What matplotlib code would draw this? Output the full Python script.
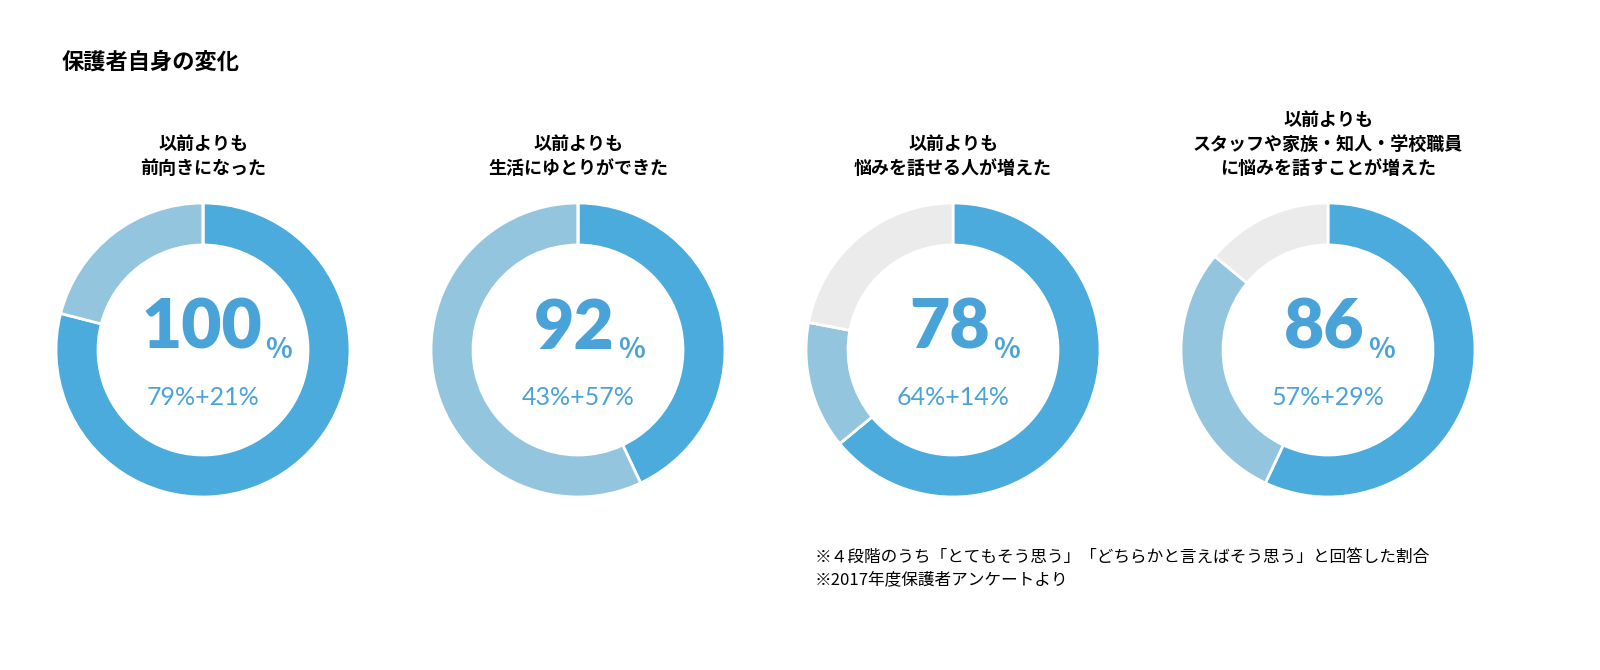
import matplotlib.pyplot as plt
import matplotlib
matplotlib.rcParams['font.family'] = 'Noto Sans CJK JP'

titles = ["以前よりも\n前向きになった",
          "以前よりも\n生活にゆとりができた",
          "以前よりも\n悩みを話せる人が増えた",
          "以前よりも\nスタッフや家族・知人・学校職員\nに悩みを話すことが増えた"]
totals = [100, 92, 78, 86]
strong = [79, 43, 64, 57]
weak = [21, 57, 14, 29]
colors = ['#4aabdc', '#94c5df', '#ebebeb']
blue = '#4aa3d8'

W, H = 1600, 670
fig = plt.figure(figsize=(16, 6.7), dpi=100)
fig.text(62 / W, 1 - 62 / H, "保護者自身の変化", fontsize=16, fontweight='bold', va='center')

centers = [203, 578, 953, 1328]
cy = 350
R = 147
for i, cx in enumerate(centers):
    ax = fig.add_axes([(cx - R) / W, (H - cy - R) / H, 2 * R / W, 2 * R / H])
    rest = 100 - strong[i] - weak[i]
    ax.pie([strong[i], weak[i], rest], colors=colors, startangle=90, counterclock=False,
           wedgeprops=dict(width=42 / R, edgecolor='white', linewidth=2))
    ax.set_xlim(-1, 1)
    ax.set_ylim(-1, 1)
    ax.set_aspect('auto')
    fig.text(cx / W, 1 - 178 / H, titles[i], ha='center', va='bottom', fontsize=13,
             fontweight='bold', linespacing=1.35)
    right = 0.40 - 0.15 * (3 - len(str(totals[i])))
    ax.text(right, 0.14, str(totals[i]), ha='right', va='center', fontsize=50,
            fontweight='heavy', color=blue, family='Lato')
    ax.text(right + 0.02, 0.0, "%", ha='left', va='center', fontsize=20, fontweight='bold', color=blue)
    ax.text(0, -0.32, f"{strong[i]}%+{weak[i]}%", ha='center', va='center', fontsize=18,
            color=blue, family='Lato')

fig.text(815 / W, 1 - 557 / H, "※４段階のうち「とてもそう思う」「どちらかと言えばそう思う」と回答した割合",
         fontsize=12, va='center')
fig.text(815 / W, 1 - 580 / H, "※2017年度保護者アンケートより", fontsize=12, va='center')
fig.savefig('out.png', dpi=100, facecolor='white')
